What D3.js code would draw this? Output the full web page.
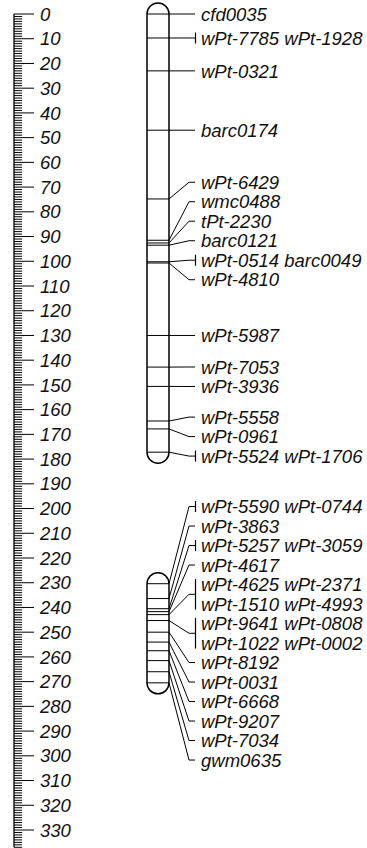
<!DOCTYPE html>
<html>
<head>
<meta charset="utf-8">
<script src="https://cdn.jsdelivr.net/npm/d3@7/dist/d3.min.js"></script>
<style>
  html, body { margin: 0; padding: 0; background: #fff; }
  svg { display: block; }
  text { font-family: "Liberation Sans", Arial, sans-serif; font-style: italic; fill: #111; }
</style>
</head>
<body>
<svg id="map" width="367" height="848"></svg>
<script>
// Ruler extent and labelled ticks (cM)
const rulerMax = 337;
const rulerLabels = [0, 10, 20, 30, 40, 50, 60, 70, 80, 90, 100, 110, 120, 130, 140, 150, 160,
  170, 180, 190, 200, 210, 220, 230, 240, 250, 260, 270, 280, 290, 300, 310, 320, 330];

// Linkage group 1: markers sharing a locus are listed together
const chr1Markers = [
  ["cfd0035"], ["wPt-7785", "wPt-1928"], ["wPt-0321"], ["barc0174"], ["wPt-6429"],
  ["wmc0488"], ["tPt-2230"], ["barc0121"], ["wPt-0514", "barc0049"], ["wPt-4810"],
  ["wPt-5987"], ["wPt-7053"], ["wPt-3936"], ["wPt-5558"], ["wPt-0961"], ["wPt-5524", "wPt-1706"]
];
const chr1Positions = [0, 9.7, 23, 47, 74.8, 91.5, 92.6, 93.5, 100.2, 100.7, 130, 142.8, 150.6, 164.6, 167.8, 177.2];

// Linkage group 2
const chr2Markers = [
  ["wPt-5590", "wPt-0744"], ["wPt-3863"], ["wPt-5257", "wPt-3059"], ["wPt-4617"],
  ["wPt-4625", "wPt-2371", "wPt-1510", "wPt-4993"], ["wPt-9641", "wPt-0808", "wPt-1022", "wPt-0002"],
  ["wPt-8192"], ["wPt-0031"], ["wPt-6668"], ["wPt-9207"], ["wPt-7034"], ["gwm0635"]
];
const chr2Positions = [230.4, 236.4, 240.5, 241.7, 242.9, 245.3, 250, 254, 257.5, 261.5, 266, 270.5];

const svg = d3.select("#map");
const y = d3.scaleLinear().domain([0, 330]).range([14, 830]);

const FONT = 18.5, LINE_H = 19.5;
const rulerX = 14;

// ---- ruler ----
const ruler = svg.append("g").attr("class", "ruler");
ruler.append("line")
  .attr("x1", rulerX).attr("x2", rulerX)
  .attr("y1", y(0)).attr("y2", y(rulerMax))
  .attr("stroke", "#000").attr("stroke-width", 1.3);
ruler.selectAll("line.tick")
  .data(d3.range(0, rulerMax + 1))
  .join("line")
  .attr("class", "tick")
  .attr("x1", rulerX)
  .attr("x2", d => rulerX + (d % 10 === 0 ? 20 : 8))
  .attr("y1", d => y(d)).attr("y2", d => y(d))
  .attr("stroke", "#000").attr("stroke-width", 1);
ruler.selectAll("text")
  .data(rulerLabels)
  .join("text")
  .attr("x", rulerX + 26)
  .attr("y", d => y(d))
  .attr("dy", "0.36em")
  .attr("font-size", FONT)
  .text(d => d);

// ---- label layout: push overlapping labels apart, each cluster centred on its extreme loci ----
function layoutLabels(groups) {
  let blocks = groups.map(g => ({ items: [g], h: g.h }));
  const place = b => {
    const first = b.items[0], last = b.items[b.items.length - 1];
    const mid = (first.ideal + last.ideal) / 2;
    const span = b.h - first.h / 2 - last.h / 2;
    b.top = mid - span / 2 - first.h / 2;
  };
  blocks.forEach(place);
  let merged = true;
  while (merged) {
    merged = false;
    for (let i = 0; i < blocks.length - 1; i++) {
      const a = blocks[i], b = blocks[i + 1];
      if (a.top + a.h > b.top + 0.01) {
        const nb = { items: a.items.concat(b.items), h: a.h + b.h };
        place(nb);
        blocks.splice(i, 2, nb);
        merged = true;
        break;
      }
    }
  }
  blocks.forEach(b => {
    let t = b.top;
    b.items.forEach(it => { it.labelY = t + it.h / 2; t += it.h; });
  });
}

function drawChromosome(markers, positions) {
  const left = 147, width = 22, right = left + width, r = width / 2;
  const g = svg.append("g");
  const top = y(positions[0]), bottom = y(positions[positions.length - 1]);

  const groups = markers.map((names, i) => {
    const lines = [];
    for (let k = 0; k < names.length; k += 2) lines.push(names.slice(k, k + 2).join(" "));
    return { names, lines, pos: positions[i], ideal: y(positions[i]), h: lines.length * LINE_H };
  });
  layoutLabels(groups);

  // outline with rounded telomere caps
  const p = d3.path();
  p.moveTo(left, top);
  p.arc(left + r, top, r, Math.PI, 0);
  p.lineTo(right, bottom);
  p.arc(left + r, bottom, r, 0, Math.PI);
  p.closePath();
  g.append("path").attr("d", p.toString())
    .attr("fill", "#fff").attr("stroke", "#000").attr("stroke-width", 1.5);

  // locus lines across the chromosome
  g.selectAll("line.locus")
    .data(groups)
    .join("line")
    .attr("class", "locus")
    .attr("x1", left).attr("x2", right)
    .attr("y1", d => d.ideal).attr("y2", d => d.ideal)
    .attr("stroke", "#000").attr("stroke-width", 1);

  const bendX = 189, endX = 195, barX = 195.5, textX = 201;

  // connectors to the labels
  g.selectAll("path.conn")
    .data(groups)
    .join("path")
    .attr("class", "conn")
    .attr("fill", "none").attr("stroke", "#000").attr("stroke-width", 1)
    .attr("d", d => `M${right},${d.ideal}L${bendX},${d.labelY}L${endX},${d.labelY}`);

  // bracket marking several markers at one locus
  g.selectAll("line.bar")
    .data(groups.filter(d => d.names.length > 1))
    .join("line")
    .attr("class", "bar")
    .attr("x1", barX).attr("x2", barX)
    .attr("y1", d => d.labelY - d.h / 2 + 4.25)
    .attr("y2", d => d.labelY + d.h / 2 - 4.25)
    .attr("stroke", "#000").attr("stroke-width", 1.2);

  // marker names
  const txt = g.selectAll("text")
    .data(groups)
    .join("text")
    .attr("x", textX)
    .attr("font-size", FONT);
  txt.each(function (d) {
    const t = d3.select(this);
    d.lines.forEach((line, k) => {
      t.append("tspan")
        .attr("x", textX)
        .attr("y", d.labelY - d.h / 2 + LINE_H * (k + 0.5))
        .attr("dy", "0.36em")
        .text(line);
    });
  });
}

drawChromosome(chr1Markers, chr1Positions);
drawChromosome(chr2Markers, chr2Positions);
</script>
</body>
</html>
